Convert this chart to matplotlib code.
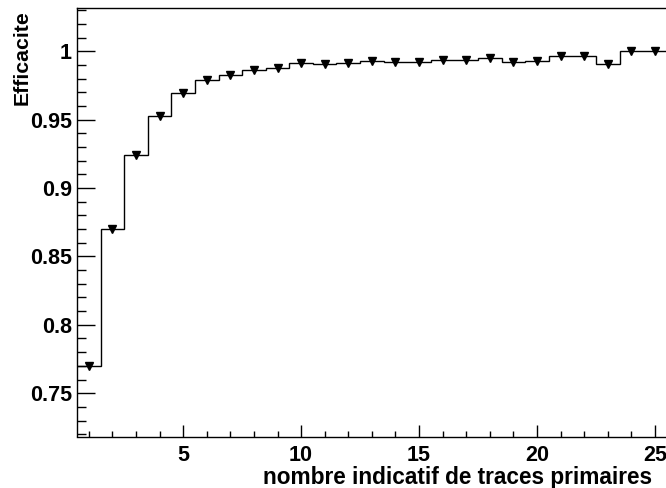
import numpy as np
import matplotlib
matplotlib.use("Agg")
from matplotlib import pyplot as plt
from matplotlib.ticker import MultipleLocator

# efficacite par bin (nombre indicatif de traces primaires = 1..25)
bins = np.arange(1, 26)
eff = [0.770, 0.870, 0.924, 0.9526, 0.9694, 0.979, 0.983, 0.9862, 0.9877, 0.9914,
       0.9909, 0.9918, 0.9928, 0.9923, 0.9925, 0.9935, 0.994, 0.9955, 0.9925, 0.9933,
       0.9965, 0.9965, 0.9909, 1.0001, 1.000]
edges = np.arange(0.5, 26.0, 1.0)

plt.rcParams['font.family'] = ['Liberation Sans', 'DejaVu Sans']
plt.rcParams['font.weight'] = 'bold'

fig = plt.figure(figsize=(6.66, 4.88), dpi=100)
ax = fig.add_axes([77/666, 1-436.5/488, 1-77/666, (436.5-8)/488])

ax.stairs(eff, edges, baseline=None, color='black', linewidth=1.0)
ax.plot(bins, eff, linestyle='none', marker='v', color='black', markersize=5.5)

ax.set_xlim(0.5, 25.47)
ax.set_ylim(0.7183, 1.0318)

ax.xaxis.set_major_locator(MultipleLocator(5))
ax.xaxis.set_minor_locator(MultipleLocator(1))
ax.yaxis.set_major_locator(MultipleLocator(0.05))
ax.yaxis.set_minor_locator(MultipleLocator(0.01))
ax.yaxis.set_major_formatter(lambda v, p: ('%g' % round(v, 3)))

ax.tick_params(axis='both', which='both', direction='in', labelsize=15.5, width=1, color='black')
ax.tick_params(axis='y', which='major', length=12.7, pad=3.6)
ax.tick_params(axis='y', which='minor', length=6.3)
ax.tick_params(axis='x', which='major', length=8.6, pad=6.0)
ax.tick_params(axis='x', which='minor', length=4.3)

ax.spines['right'].set_visible(False)
for s in ['left', 'top', 'bottom']:
    ax.spines[s].set_linewidth(1)

fig.text(652/666, 0.009, 'nombre indicatif de traces primaires', ha='right', va='baseline',
         fontsize=16.3, fontweight='bold')
fig.text(22/666, 1-10/488, 'Efficacite', rotation=90, ha='center', va='top',
         fontsize=15.3, fontweight='bold')

fig.savefig('out.png', dpi=100)
